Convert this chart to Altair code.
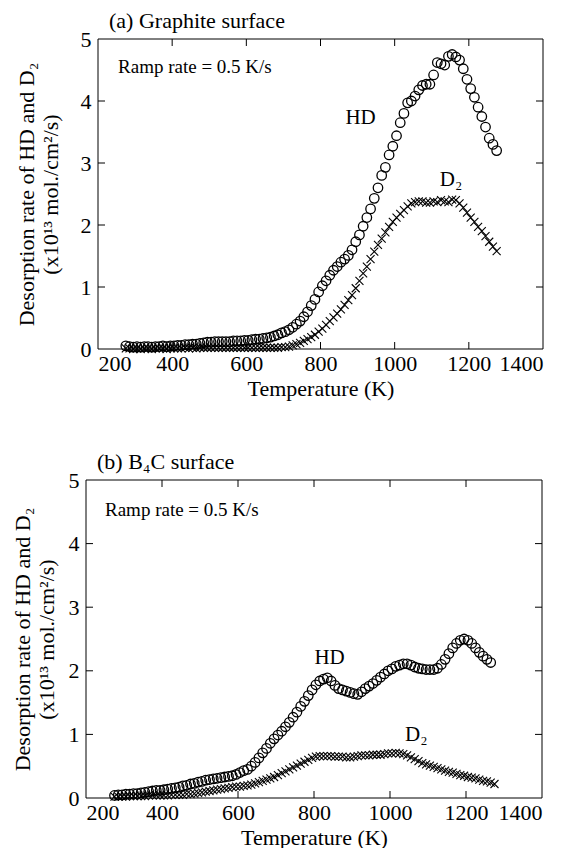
import altair as alt
import pandas as pd

FONT = "Liberation Serif"

# ---------------- data: (a) Graphite surface ----------------
T_a = [275, 285, 295, 305, 315, 325, 335, 345, 355, 365, 375, 385, 395, 405, 415, 425, 435, 445, 455, 465,
       475, 485, 495, 505, 515, 525, 535, 545, 555, 565, 575, 585, 595, 605, 615, 625, 635, 645, 655, 665,
       675, 685, 695, 705, 715, 725, 735, 745, 755, 765, 775, 785, 795, 805, 815, 825, 835, 845, 855, 865,
       875, 885, 895, 905, 915, 925, 935, 945, 955, 965, 975, 985, 995, 1005, 1015, 1025, 1035, 1045, 1055, 1065,
       1075, 1085, 1095, 1105, 1115, 1125, 1135, 1145, 1155, 1165, 1175, 1185, 1195, 1205, 1215, 1225, 1235, 1245, 1255, 1265,
       1275]
HD_a = [0.05, 0.04, 0.03, 0.04, 0.03, 0.04, 0.04, 0.03, 0.04, 0.04, 0.05, 0.04, 0.05, 0.05, 0.06, 0.06, 0.07, 0.07, 0.08, 0.08,
        0.09, 0.10, 0.11, 0.11, 0.12, 0.12, 0.12, 0.12, 0.12, 0.13, 0.13, 0.13, 0.14, 0.14, 0.15, 0.16, 0.16, 0.17, 0.18, 0.19,
        0.21, 0.23, 0.26, 0.28, 0.31, 0.35, 0.40, 0.45, 0.52, 0.60, 0.70, 0.80, 0.92, 1.02, 1.10, 1.19, 1.27, 1.33, 1.40, 1.45,
        1.51, 1.60, 1.73, 1.84, 1.98, 2.12, 2.26, 2.43, 2.60, 2.80, 2.93, 3.13, 3.27, 3.44, 3.65, 3.80, 3.97, 4.00, 4.08, 4.18,
        4.25, 4.27, 4.27, 4.42, 4.62, 4.60, 4.58, 4.72, 4.75, 4.71, 4.66, 4.52, 4.35, 4.20, 4.06, 3.90, 3.75, 3.58, 3.40, 3.30,
        3.20]
D2_a = [0.01, 0.01, 0.00, 0.01, 0.00, 0.01, 0.01, 0.00, 0.01, 0.01, 0.01, 0.00, 0.01, 0.01, 0.01, 0.01, 0.02, 0.01, 0.02, 0.01,
        0.02, 0.02, 0.02, 0.02, 0.02, 0.02, 0.02, 0.02, 0.02, 0.02, 0.02, 0.02, 0.02, 0.02, 0.02, 0.02, 0.02, 0.02, 0.02, 0.02,
        0.02, 0.02, 0.03, 0.03, 0.04, 0.06, 0.08, 0.10, 0.13, 0.16, 0.19, 0.23, 0.28, 0.33, 0.39, 0.45, 0.51, 0.57, 0.64, 0.71,
        0.79, 0.87, 0.98, 1.10, 1.22, 1.33, 1.45, 1.57, 1.68, 1.78, 1.88, 1.97, 2.05, 2.12, 2.18, 2.24, 2.30, 2.35, 2.37, 2.38,
        2.38, 2.36, 2.36, 2.38, 2.37, 2.40, 2.38, 2.37, 2.41, 2.40, 2.35, 2.28, 2.20, 2.12, 2.05, 1.97, 1.90, 1.82, 1.73, 1.65,
        1.58]

# ---------------- data: (b) B4C surface ----------------
T_b = T_a
HD_b = [0.04, 0.05, 0.05, 0.06, 0.06, 0.07, 0.07, 0.08, 0.09, 0.10, 0.11, 0.12, 0.12, 0.13, 0.14, 0.15, 0.16, 0.17, 0.19, 0.20,
        0.22, 0.23, 0.25, 0.26, 0.28, 0.29, 0.30, 0.31, 0.32, 0.33, 0.34, 0.35, 0.37, 0.40, 0.43, 0.45, 0.50, 0.56, 0.63, 0.71,
        0.78, 0.86, 0.93, 0.99, 1.05, 1.12, 1.19, 1.27, 1.35, 1.44, 1.52, 1.61, 1.70, 1.78, 1.84, 1.87, 1.89, 1.84, 1.77, 1.72,
        1.70, 1.68, 1.66, 1.64, 1.63, 1.67, 1.72, 1.76, 1.80, 1.85, 1.90, 1.95, 2.00, 2.03, 2.07, 2.09, 2.11, 2.11, 2.09, 2.06,
        2.04, 2.03, 2.02, 2.02, 2.02, 2.04, 2.10, 2.18, 2.27, 2.36, 2.43, 2.48, 2.50, 2.48, 2.43, 2.36, 2.29, 2.23, 2.18, 2.13,
        None]
D2_b = [0.02, 0.02, 0.02, 0.02, 0.03, 0.03, 0.03, 0.03, 0.03, 0.04, 0.04, 0.04, 0.04, 0.04, 0.04, 0.05, 0.05, 0.05, 0.05, 0.06,
        0.06, 0.07, 0.08, 0.09, 0.10, 0.11, 0.12, 0.13, 0.14, 0.15, 0.16, 0.17, 0.18, 0.18, 0.19, 0.20, 0.21, 0.23, 0.25, 0.27,
        0.29, 0.31, 0.33, 0.36, 0.39, 0.42, 0.45, 0.48, 0.51, 0.54, 0.57, 0.60, 0.63, 0.65, 0.66, 0.66, 0.66, 0.66, 0.65, 0.65,
        0.65, 0.64, 0.64, 0.65, 0.66, 0.67, 0.67, 0.67, 0.68, 0.68, 0.68, 0.69, 0.70, 0.70, 0.71, 0.70, 0.69, 0.67, 0.64, 0.61,
        0.58, 0.55, 0.53, 0.51, 0.49, 0.47, 0.45, 0.43, 0.41, 0.40, 0.38, 0.36, 0.35, 0.33, 0.32, 0.31, 0.29, 0.27, 0.26, 0.24,
        0.22]

X_TICKS = [200, 400, 600, 800, 1000, 1200, 1400]
Y_TICKS = [0, 1, 2, 3, 4, 5]
X_INNER = [400, 600, 800, 1000, 1200]
Y_INNER = [1, 2, 3, 4]

Y_TITLE = ["Desorption rate of HD and D\u2082", "(x10\u00b9\u00b3 mol./cm\u00b2/s)"]

CROSS = "M-1,-1L1,1M-1,1L1,-1"
FS = 22


def panel(title, T, hd, d2, width, height, ann, title_pad, shift):
    df_hd = pd.DataFrame({"T": T, "v": hd}).dropna()
    df_d2 = pd.DataFrame({"T": T, "v": d2}).dropna()
    x = alt.X("T:Q", scale=alt.Scale(domain=[200, 1400], nice=False, range=[shift, width]),
              axis=alt.Axis(values=X_TICKS, title="Temperature (K)", format="d",
                            titleX=(shift + width) / 2))
    y = alt.Y("v:Q", scale=alt.Scale(domain=[0, 5], nice=False),
              axis=alt.Axis(values=Y_TICKS, title=Y_TITLE, titlePadding=title_pad, offset=-shift))

    circles = alt.Chart(df_hd).mark_point(shape="circle", filled=False, color="black",
                                          strokeWidth=1.3, size=90, opacity=1).encode(x=x, y=y)
    crosses = alt.Chart(df_d2).mark_point(shape=CROSS, filled=False, color="black",
                                          strokeWidth=1.1, size=64, opacity=1).encode(x=x, y=y)

    one = pd.DataFrame({"k": [0]})
    f_left = alt.Chart(one).mark_rule(color="black").encode(
        x=alt.value(shift), y=alt.value(0), y2=alt.value(height))
    f_right = alt.Chart(one).mark_rule(color="black").encode(
        x=alt.value(width), y=alt.value(0), y2=alt.value(height))
    f_top = alt.Chart(one).mark_rule(color="black").encode(
        x=alt.value(shift), x2=alt.value(width), y=alt.value(0))
    f_bot = alt.Chart(one).mark_rule(color="black").encode(
        x=alt.value(shift), x2=alt.value(width), y=alt.value(height))

    xt = pd.DataFrame({"T": X_INNER})
    yt = pd.DataFrame({"v": Y_INNER})
    tb = alt.Chart(xt).mark_rule(color="black").encode(x=x, y=alt.value(height), y2=alt.value(height - 7))
    tt = alt.Chart(xt).mark_rule(color="black").encode(x=x, y=alt.value(0), y2=alt.value(7))
    tl = alt.Chart(yt).mark_rule(color="black").encode(y=y, x=alt.value(shift), x2=alt.value(shift + 7))
    tr = alt.Chart(yt).mark_rule(color="black").encode(y=y, x=alt.value(width), x2=alt.value(width - 7))

    labels = alt.Chart(pd.DataFrame(ann["main"])).mark_text(
        font=FONT, fontSize=21, color="black", align="center", baseline="middle"
    ).encode(x=x, y=y, text="label:N")
    ramp = alt.Chart(pd.DataFrame(ann["ramp"])).mark_text(
        font=FONT, fontSize=19, color="black", align="left", baseline="middle"
    ).encode(x=x, y=y, text="label:N")

    return alt.layer(f_left, f_right, f_top, f_bot, tb, tt, tl, tr,
                     circles, crosses, labels, ramp).properties(
        width=width, height=height,
        title=alt.TitleParams(title, anchor="start", frame="group", dx=11 + shift, offset=-5,
                              font=FONT, fontSize=FS, fontWeight="normal", color="black"),
    )


ann_a = {"main": {"T": [908, 1152], "v": [3.72, 2.73], "label": ["HD", "D\u2082"]},
         "ramp": {"T": [254], "v": [4.55], "label": ["Ramp rate = 0.5 K/s"]}}
ann_b = {"main": {"T": [841, 1069], "v": [2.20, 0.99], "label": ["HD", "D\u2082"]},
         "ramp": {"T": [250], "v": [4.53], "label": ["Ramp rate = 0.5 K/s"]}}

pa = panel("(a) Graphite surface", T_a, HD_a, D2_a, 457, 310, ann_a, 18, 12)
pb = panel("(b) B\u2084C surface", T_b, HD_b, D2_b, 456, 318, ann_b, 10, 0)

chart = alt.concat(pa, pb, columns=1, spacing=52).properties(
    padding={"left": 3, "top": 2, "right": 0, "bottom": 0},
    background="white",
).configure_view(strokeOpacity=0).configure_axis(
    domain=False, ticks=False, grid=False,
    labelFont=FONT, labelFontSize=FS, labelColor="black", labelPadding=7,
    titleFont=FONT, titleFontSize=FS, titleFontWeight="normal", titleColor="black",
).configure_axisX(titlePadding=4, labelPadding=4)

chart.save("out.html", embed_options={"renderer": "svg", "actions": False})
